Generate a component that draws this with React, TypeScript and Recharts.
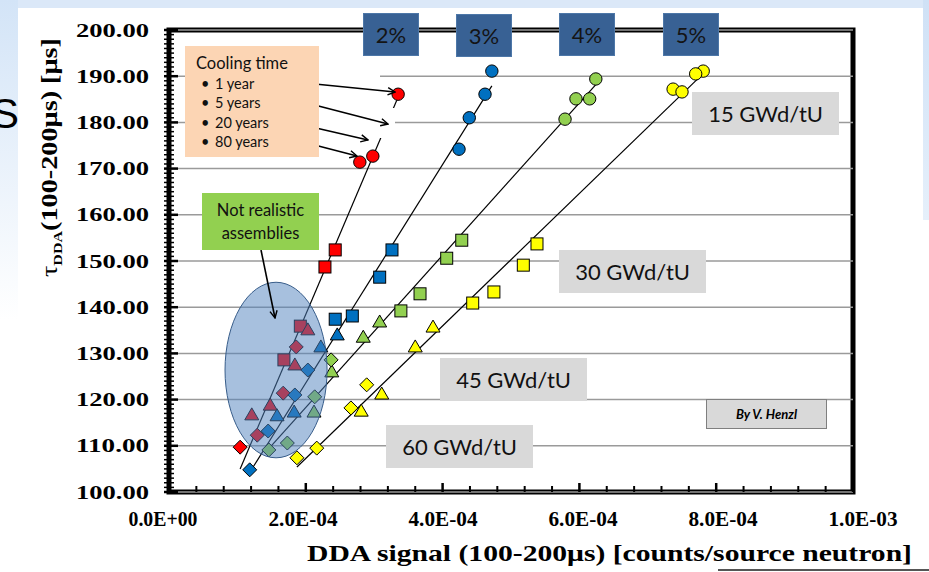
import React from 'react';
import { ScatterChart, Scatter, XAxis, YAxis, ReferenceArea, ReferenceLine } from 'recharts';

// axis ticks
const xTicks = [0, 0.0002, 0.0004, 0.0006, 0.0008, 0.001];
const xTickLabels = ['0.0E+00', '2.0E-04', '4.0E-04', '6.0E-04', '8.0E-04', '1.0E-03'];
const yTicks = [100, 110, 120, 130, 140, 150, 160, 170, 180, 190, 200];
const xMinorTicks = Array.from({ length: 26 }, (_, i) => i * 0.00004);
const yMinorTicks = Array.from({ length: 101 }, (_, i) => 100 + i);

// 15 GWd/tU (circles)
const red15 = [{ x: 3.35e-4, y: 186.1 }, { x: 2.98e-4, y: 172.7 }, { x: 2.79e-4, y: 171.4 }];
const blue15 = [{ x: 4.72e-4, y: 191.1 }, { x: 4.62e-4, y: 186.1 }, { x: 4.39e-4, y: 181.0 }, { x: 4.24e-4, y: 174.2 }];
const green15 = [{ x: 6.24e-4, y: 189.4 }, { x: 5.95e-4, y: 185.1 }, { x: 6.15e-4, y: 185.1 }, { x: 5.79e-4, y: 180.7 }];
const yellow15 = [{ x: 7.81e-4, y: 191.1 }, { x: 7.7e-4, y: 190.5 }, { x: 7.37e-4, y: 187.2 }, { x: 7.5e-4, y: 186.6 }];

// 30 GWd/tU (squares)
const red30 = [{ x: 2.43e-4, y: 152.4 }, { x: 2.28e-4, y: 148.7 }, { x: 1.92e-4, y: 135.9 }, { x: 1.68e-4, y: 128.6 }];
const blue30 = [{ x: 3.26e-4, y: 152.4 }, { x: 3.08e-4, y: 146.5 }, { x: 2.68e-4, y: 138.1 }, { x: 2.43e-4, y: 137.4 }];
const green30 = [{ x: 4.28e-4, y: 154.5 }, { x: 4.06e-4, y: 150.6 }, { x: 3.67e-4, y: 142.9 }, { x: 3.39e-4, y: 139.2 }];
const yellow30 = [{ x: 5.38e-4, y: 153.7 }, { x: 5.18e-4, y: 149.1 }, { x: 4.75e-4, y: 143.3 }, { x: 4.44e-4, y: 140.9 }];

// 45 GWd/tU (triangles)
const red45 = [{ x: 2.03e-4, y: 135.1 }, { x: 1.84e-4, y: 127.5 }, { x: 1.48e-4, y: 118.8 }, { x: 1.21e-4, y: 116.7 }];
const blue45 = [{ x: 2.46e-4, y: 134.0 }, { x: 2.22e-4, y: 131.4 }, { x: 1.83e-4, y: 117.3 }, { x: 1.58e-4, y: 116.5 }];
const green45 = [{ x: 3.08e-4, y: 136.8 }, { x: 2.84e-4, y: 133.5 }, { x: 2.38e-4, y: 126.0 }, { x: 2.12e-4, y: 117.3 }];
const yellow45 = [{ x: 3.86e-4, y: 135.7 }, { x: 3.6e-4, y: 131.4 }, { x: 3.11e-4, y: 121.2 }, { x: 2.81e-4, y: 117.5 }];

// 60 GWd/tU (diamonds)
const red60 = [{ x: 1.86e-4, y: 131.4 }, { x: 1.67e-4, y: 121.4 }, { x: 1.29e-4, y: 112.3 }, { x: 1.04e-4, y: 109.7 }];
const blue60 = [{ x: 2.03e-4, y: 126.4 }, { x: 1.84e-4, y: 121.0 }, { x: 1.45e-4, y: 113.2 }, { x: 1.18e-4, y: 104.8 }];
const green60 = [{ x: 2.37e-4, y: 128.6 }, { x: 2.13e-4, y: 120.6 }, { x: 1.73e-4, y: 110.6 }, { x: 1.46e-4, y: 109.1 }];
const yellow60 = [{ x: 2.89e-4, y: 123.2 }, { x: 2.66e-4, y: 118.2 }, { x: 2.16e-4, y: 109.5 }, { x: 1.87e-4, y: 107.4 }];

// trend lines per enrichment
const fit2 = [{ x: 1.04e-4, y: 105.0 }, { x: 3.33e-4, y: 184.8 }];
const fit3 = [{ x: 1.23e-4, y: 105.4 }, { x: 4.72e-4, y: 187.9 }];
const fit4 = [{ x: 1.4e-4, y: 108.4 }, { x: 6.26e-4, y: 188.5 }];
const fit5 = [{ x: 1.87e-4, y: 105.4 }, { x: 7.79e-4, y: 190.3 }];

// "not realistic" ellipse (centre, half sizes in data units)
const ellipseCentre = [{ x: 1.565e-4, y: 126.4 }];
const ellipseHalfX = 7.46e-5;
const ellipseHalfY = 19.0;

const W = 929;
const H = 572;
const M = { top: 30, right: 76, bottom: 40, left: 49 };
const PLOT_W = W - M.left - 120 - M.right;
const PLOT_H = H - M.top - M.bottom - 40;

const RED = '#ff0000';
const BLUE = '#0070c0';
const GREEN = '#92d050';
const YELLOW = '#ffff00';

const circle = (fill: string) => (p: any) => (
  <circle cx={p.cx} cy={p.cy} r={6.2} fill={fill} stroke="#000" strokeWidth={1} />
);
const square = (fill: string) => (p: any) => (
  <rect x={p.cx - 6} y={p.cy - 6} width={12} height={12} fill={fill} stroke="#000" strokeWidth={1} />
);
const triangle = (fill: string) => (p: any) => (
  <polygon
    points={`${p.cx},${p.cy - 7} ${p.cx + 7},${p.cy + 5} ${p.cx - 7},${p.cy + 5}`}
    fill={fill}
    stroke="#000"
    strokeWidth={1}
  />
);
const diamond = (fill: string) => (p: any) => (
  <polygon
    points={`${p.cx},${p.cy - 7} ${p.cx + 7},${p.cy} ${p.cx},${p.cy + 7} ${p.cx - 7},${p.cy}`}
    fill={fill}
    stroke="#000"
    strokeWidth={1}
  />
);
const noDot = () => <g />;
const ellipseShape = (p: any) => (
  <ellipse
    cx={p.cx}
    cy={p.cy}
    rx={(ellipseHalfX / 0.001) * PLOT_W}
    ry={(ellipseHalfY / 100) * PLOT_H}
    fill="#4f81bd"
    fillOpacity={0.5}
    stroke="#385d8a"
    strokeWidth={1}
  />
);

// y ticks: every unit gets a short tick, every ten a longer one plus a label
const YTick = (props: any) => {
  const v = Number(props.payload.value);
  const major = Math.abs(v % 10) < 1e-6;
  return (
    <g>
      <line x1={props.x - 5} x2={props.x + (major ? 9 : 5)} y1={props.y} y2={props.y} stroke="#000" strokeWidth={major ? 2.5 : 1.5} />
      {major && (
        <text
          x={props.x - 20}
          y={props.y}
          textAnchor="end"
          dominantBaseline="central"
          fontFamily="'Liberation Serif', serif"
          fontWeight="bold"
          fontSize={19}
          fill="#000"
          textLength={73}
          lengthAdjust="spacingAndGlyphs"
        >
          {v.toFixed(2)}
        </text>
      )}
    </g>
  );
};

const XTick = (props: any) => {
  const v = props.payload.value;
  const i = xTicks.findIndex((t) => Math.abs(t - v) < 1e-9);
  const major = i >= 0;
  return (
    <g>
      <line x1={props.x} x2={props.x} y1={props.y - (major ? 9 : 6)} y2={props.y} stroke="#000" strokeWidth={major ? 2.5 : 2} />
      {major && (
        <text
          x={props.x + (v / 0.001) * 16 - 6}
          y={props.y + 34}
          textAnchor="middle"
          fontFamily="'Liberation Serif', serif"
          fontWeight="bold"
          fontSize={20}
          fill="#000"
          textLength={69}
          lengthAdjust="spacingAndGlyphs"
        >
          {xTickLabels[i]}
        </text>
      )}
    </g>
  );
};

const series = [
  { data: red15, shape: circle(RED) },
  { data: blue15, shape: circle(BLUE) },
  { data: green15, shape: circle(GREEN) },
  { data: yellow15, shape: circle(YELLOW) },
  { data: red30, shape: square(RED) },
  { data: blue30, shape: square(BLUE) },
  { data: green30, shape: square(GREEN) },
  { data: yellow30, shape: square(YELLOW) },
  { data: red45, shape: triangle(RED) },
  { data: blue45, shape: triangle(BLUE) },
  { data: green45, shape: triangle(GREEN) },
  { data: yellow45, shape: triangle(YELLOW) },
  { data: red60, shape: diamond(RED) },
  { data: blue60, shape: diamond(BLUE) },
  { data: green60, shape: diamond(GREEN) },
  { data: yellow60, shape: diamond(YELLOW) },
];

const calibri = "Lato, 'Open Sans', sans-serif";

const box = (left: number, top: number, w: number, h: number, bg: string, extra: any = {}) => ({
  position: 'absolute' as const,
  left,
  top,
  width: w,
  height: h,
  background: bg,
  display: 'flex',
  alignItems: 'center',
  justifyContent: 'center',
  fontFamily: calibri,
  color: '#111',
  boxSizing: 'border-box' as const,
  ...extra,
});

const pctBoxes = [
  { label: '2%', left: 363, top: 13 },
  { label: '3%', left: 456, top: 14 },
  { label: '4%', left: 559, top: 13 },
  { label: '5%', left: 663, top: 13 },
];

const burnBoxes = [
  { label: '15 GWd/tU', left: 692, top: 92 },
  { label: '30 GWd/tU', left: 559, top: 250 },
  { label: '45 GWd/tU', left: 440, top: 358 },
  { label: '60 GWd/tU', left: 386, top: 425 },
];

const arrows = [
  [295, 82, 395, 92],
  [303, 102, 388, 124],
  [303, 125, 368, 140],
  [303, 142, 357, 156],
  [261, 250, 275, 318],
];

export default function App() {
  return (
    <div style={{ position: 'absolute', left: 0, top: 0, width: W, height: H, background: '#fff', overflow: 'hidden' }}>
      <div style={{ position: 'absolute', left: 0, top: 0, width: W, height: 8, background: '#dbe8f8' }} />
      <div style={{ position: 'absolute', left: 0, top: 0, width: 18, height: 320, background: 'linear-gradient(#d3e4f7, #ffffff)' }} />
      <div style={{ position: 'absolute', left: 923, top: 0, width: 6, height: 220, background: 'linear-gradient(#cfe1f6, #e6f0fb)' }} />
      <div style={{ position: 'absolute', left: 718, top: 569, width: 211, height: 2, background: '#555' }} />

      <div style={{ position: 'absolute', left: 0, top: 0 }}>
        <ScatterChart width={W} height={H} margin={M}>
          {yTicks.map((v) => (
            <ReferenceLine key={`g${v}`} y={v} stroke="#9a9a9a" strokeWidth={1.5} />
          ))}
          <XAxis
            dataKey="x"
            type="number"
            domain={[0, 0.001]}
            allowDataOverflow
            ticks={xMinorTicks}
            interval={0}
            tickLine={false}
            axisLine={false}
            tickSize={0}
            tickMargin={0}
            height={40}
            tick={<XTick />}
          />
          <YAxis
            dataKey="y"
            type="number"
            domain={[100, 200]}
            allowDataOverflow
            ticks={yMinorTicks}
            interval={0}
            tickLine={false}
            axisLine={false}
            tickSize={0}
            tickMargin={0}
            width={120}
            tick={<YTick />}
          />
          <ReferenceArea x1={0} x2={0.001} y1={100} y2={200} fill="none" fillOpacity={0} stroke="#000" strokeWidth={5} />

          {[fit2, fit3, fit4, fit5].map((d, i) => (
            <Scatter key={`fit${i}`} data={d} line={{ stroke: '#000', strokeWidth: 1.2 }} shape={noDot} isAnimationActive={false} />
          ))}
          {series.map((s, i) => (
            <Scatter key={`s${i}`} data={s.data} shape={s.shape} isAnimationActive={false} />
          ))}
          <Scatter data={ellipseCentre} shape={ellipseShape} isAnimationActive={false} />
        </ScatterChart>
      </div>

      <svg width={W} height={H} style={{ position: 'absolute', left: 0, top: 0, pointerEvents: 'none' }}>
        <defs>
          <marker id="arr" viewBox="0 0 10 10" refX={9} refY={5} markerWidth={9} markerHeight={9} orient="auto" markerUnits="userSpaceOnUse">
            <path d="M1,1 L9,5 L1,9" fill="none" stroke="#000" strokeWidth={1.6} />
          </marker>
        </defs>
        <rect x={319} y={60} width={61} height={40} fill="#fff" />
        <rect x={319} y={108} width={76} height={30} fill="#fff" />
        {arrows.map((a, i) => (
          <line key={i} x1={a[0]} y1={a[1]} x2={a[2]} y2={a[3]} stroke="#000" strokeWidth={1.6} markerEnd="url(#arr)" />
        ))}
        <text x={-9} y={128} fontFamily="'Liberation Sans', sans-serif" fontSize={42} fill="#000">S</text>
        <text
          transform="translate(57,277) rotate(-90)"
          fontFamily="'Liberation Serif', serif"
          fontSize={23}
          fontWeight="bold"
          fill="#000"
          textLength={239}
          lengthAdjust="spacingAndGlyphs"
        >
          <tspan fontWeight="normal">τ</tspan>
          <tspan fontSize={13} dy={5}>DDA</tspan>
          <tspan dy={-5}>(100-200μs) [μs]</tspan>
        </text>
        <text
          x={307}
          y={561}
          fontFamily="'Liberation Serif', serif"
          fontSize={23}
          fontWeight="bold"
          fill="#000"
          textLength={605}
          lengthAdjust="spacingAndGlyphs"
        >
          DDA signal (100-200μs) [counts/source neutron]
        </text>
      </svg>

      {pctBoxes.map((b) => (
        <div key={b.label} style={box(b.left, b.top, 56, 43, '#386194', { fontSize: 22, color: '#141414', border: '1px solid #4d77a8' })}>
          {b.label}
        </div>
      ))}

      <div style={box(185, 46, 134, 111, '#fcd5b4', { display: 'block', padding: 0 })}>
        <div style={{ position: 'absolute', left: 11, top: 7, fontSize: 16.5 }}>Cooling time</div>
        {['1 year', '5 years', '20 years', '80 years'].map((t, i) => (
          <div key={t} style={{ position: 'absolute', left: 30, top: 29 + i * 19.3, fontSize: 14.5 }}>
            <span style={{ position: 'absolute', left: -14 }}>•</span>
            {t}
          </div>
        ))}
      </div>

      <div style={box(202, 193, 117, 57, '#92d050', { fontSize: 16.5, lineHeight: '23px', textAlign: 'center' })}>
        Not realistic
        <br />
        assemblies
      </div>

      {burnBoxes.map((b) => (
        <div key={b.label} style={box(b.left, b.top, 147, 43, '#d9d9d9', { fontSize: 22 })}>
          {b.label}
        </div>
      ))}

      <div style={box(706, 399, 121, 30, '#d9d9d9', { border: '1.5px solid #7f7f7f', fontSize: 13, fontWeight: 'bold', fontStyle: 'italic', color: '#000' })}>
        By V. Henzl
      </div>
    </div>
  );
}
